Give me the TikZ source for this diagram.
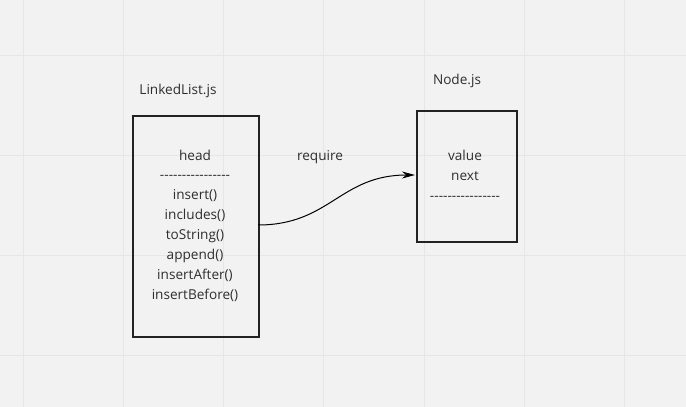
\documentclass[tikz,border=0pt]{standalone}
\usepackage{fontspec}
\setmainfont{Open Sans}[Ligatures=TeXOff]
\usetikzlibrary{arrows.meta}
\definecolor{bg}{HTML}{F2F2F2}
\definecolor{gridc}{HTML}{E6E6E6}
\definecolor{ink}{HTML}{222222}
\definecolor{txt}{HTML}{2E2E2E}
\begin{document}
\begin{tikzpicture}[x=1pt,y=-1pt,
  box/.style={draw=ink,line width=2pt,inner sep=0pt,anchor=north west},
  lbl/.style={text=txt,font=\fontsize{13.6}{20}\selectfont,inner sep=0pt,align=center},
  conn/.style={draw=black,line width=1pt,-{Stealth[length=13pt,width=7pt]}}]
\fill[bg] (0,0) rectangle (686,407);
\useasboundingbox (0,0) rectangle (686,407);
\foreach \x in {23,123,223,323,424,524,624} \draw[gridc,line width=1pt] (\x,0) -- (\x,407);
\foreach \y in {55,155,255,355} \draw[gridc,line width=1pt] (0,\y) -- (686,\y);
\node[box,minimum width=126pt,minimum height=221pt] (ll) at (132,115) {};
\node[box,minimum width=100pt,minimum height=131pt] (nd) at (416,110) {};
\node[lbl] (lltitle) at (178,91) {LinkedList.js};
\node[lbl] (ndtitle) at (457,81) {Node.js};
\node[lbl] (req) at (320,157) {require};
\node[lbl,anchor=north] (lltext) at (195,150) {head\\[-1pt]----------------\\insert()\\includes()\\toString()\\append()\\insertAfter()\\insertBefore()};
\node[lbl,anchor=north] (ndtext) at (465,150) {value\\next\\----------------};
\coordinate (s) at (258,225);
\coordinate (e) at (415,175);
\draw[conn] (s) .. controls (330,225) and (340,175) .. (e);
\end{tikzpicture}
\end{document}
